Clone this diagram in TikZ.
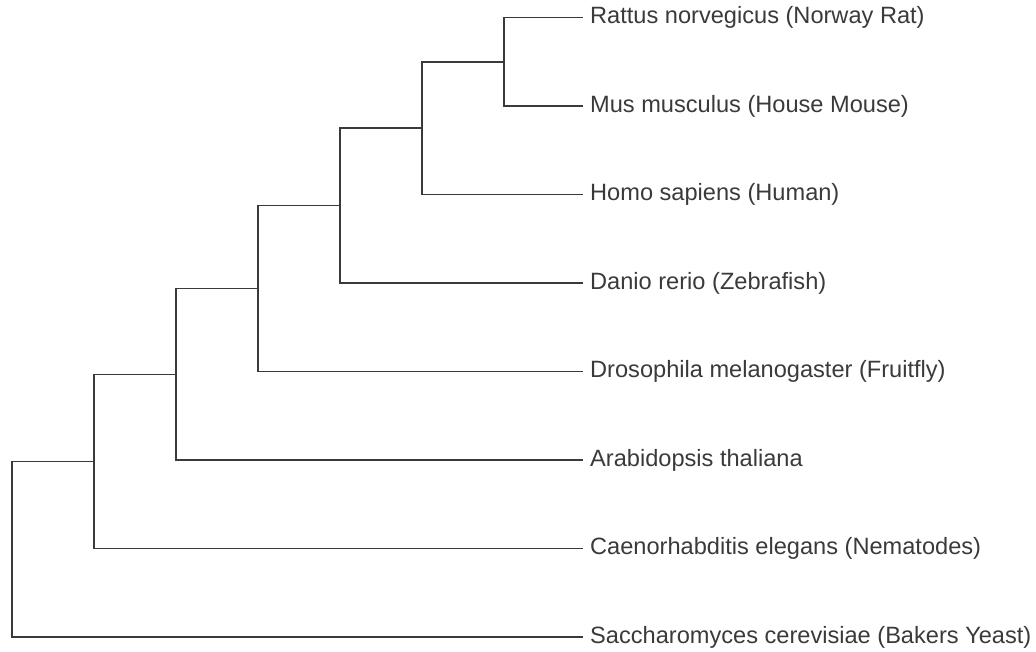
\documentclass[tikz,border=0pt]{standalone}
\usepackage{fontspec}
\setmainfont{Liberation Sans}
\usetikzlibrary{positioning}
\definecolor{treegray}{HTML}{3A3A3A}
\tikzset{
  branch/.style={draw=treegray, line width=1.6pt},
  taxon/.style={anchor=west, inner sep=0pt, text=treegray, font=\fontsize{23.6}{28}\selectfont}
}
\begin{document}
\begin{tikzpicture}[x=1pt, y=-1pt]
	\useasboundingbox (0,0) rectangle (1036,652);
	% leaf tips
	\coordinate (tRat) at (583,17.5);
	\coordinate (tMus) at (583,106);
	\coordinate (tHomo) at (583,194.5);
	\coordinate (tDanio) at (583,283);
	\coordinate (tDros) at (583,371.5);
	\coordinate (tArab) at (583,460);
	\coordinate (tCaen) at (583,548.5);
	\coordinate (tSacc) at (583,637);
	% labels
	\node[taxon, right=7pt of tRat] (rat) {Rattus norvegicus (Norway Rat)};
	\node[taxon, right=7pt of tMus] (mus) {Mus musculus (House Mouse)};
	\node[taxon, right=7pt of tHomo] (homo) {Homo sapiens (Human)};
	\node[taxon, right=7pt of tDanio] (danio) {Danio rerio (Zebrafish)};
	\node[taxon, right=7pt of tDros] (dros) {Drosophila melanogaster (Fruitfly)};
	\node[taxon, right=7pt of tArab] (arab) {Arabidopsis thaliana};
	\node[taxon, right=7pt of tCaen] (caen) {Caenorhabditis elegans (Nematodes)};
	\node[taxon, right=7pt of tSacc] (sacc) {Saccharomyces cerevisiae (Bakers Yeast)};
	% internal nodes
	\coordinate (n1) at (504,61.75);
	\coordinate (n2) at (422,128.1);
	\coordinate (n3) at (340,205.6);
	\coordinate (n4) at (258,288.5);
	\coordinate (n5) at (176,374.3);
	\coordinate (n6) at (94,461.4);
	\coordinate (root) at (12,549.2);
	% branches
	\draw[branch] (tRat) -| (n1) |- (tMus);
	\draw[branch] (n1) -| (n2) |- (tHomo);
	\draw[branch] (n2) -| (n3) |- (tDanio);
	\draw[branch] (n3) -| (n4) |- (tDros);
	\draw[branch] (n4) -| (n5) |- (tArab);
	\draw[branch] (n5) -| (n6) |- (tCaen);
	\draw[branch] (n6) -| (root) |- (tSacc);
\end{tikzpicture}
\end{document}
